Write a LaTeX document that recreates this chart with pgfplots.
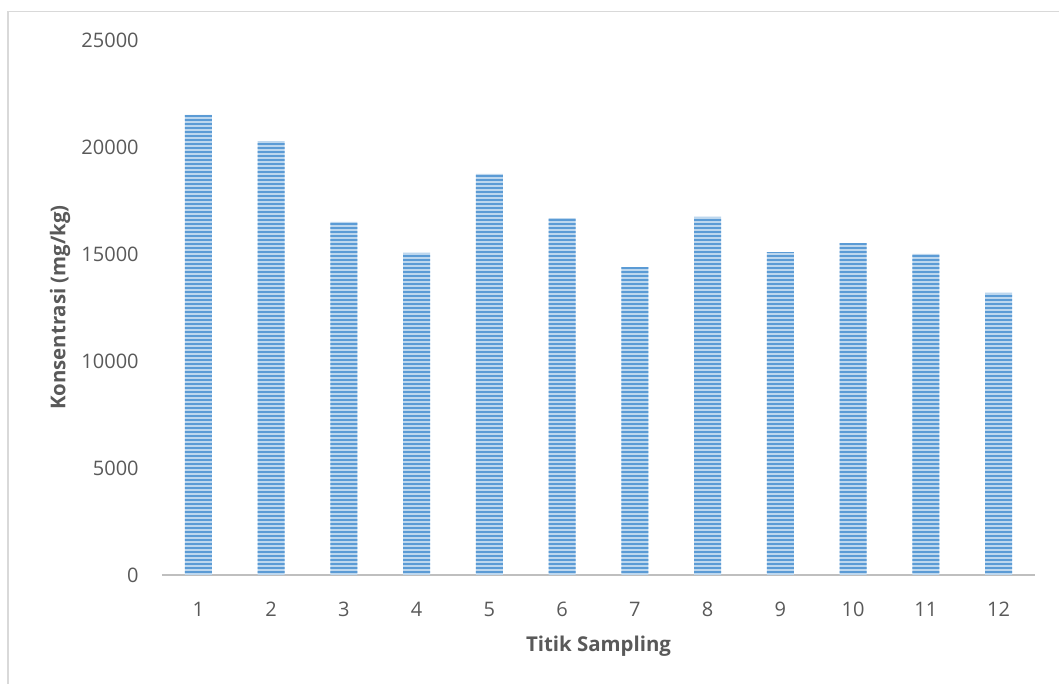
\documentclass[border=0pt]{standalone}
\usepackage{pgfplots}
\pgfplotsset{compat=1.18}
\usetikzlibrary{patterns.meta}
\usepackage{fontspec}
\setmainfont{Open Sans}

\definecolor{txtgray}{HTML}{595959}
\definecolor{axgray}{HTML}{BFBFBF}
\definecolor{framegray}{HTML}{D9D9D9}
\definecolor{barlight}{HTML}{BDD7EE}
\definecolor{bardark}{HTML}{5B9BD5}

\pgfplotstableread{
x y
1 21500
2 20280
3 16500
4 15050
5 18740
6 16680
7 14390
8 16730
9 15090
10 15510
11 15000
12 13180
}\konsentrasi

\begin{document}
\begin{tikzpicture}
\useasboundingbox (-81pt,-54.5pt) rectangle (448.5pt,287.5pt);
% outer chart frame
\draw[framegray, line width=0.8pt] (-77pt,-70pt) -- (-77pt,281.75pt) -- (470pt,281.75pt);
\begin{axis}[
  at={(0,0)}, anchor=south west,
  scale only axis,
  width=436.5pt, height=267.5pt,
  xmin=0.5, xmax=12.5,
  ymin=0, ymax=25000,
  xtick={1,...,12},
  ytick={0,5000,10000,15000,20000,25000},
  axis x line=bottom, axis y line=left,
  x axis line style={axgray, line width=1.3pt, -},
  y axis line style={draw=none},
  tick style={draw=none},
  /pgf/number format/assume math mode=true,
  /pgf/number format/set thousands separator={},
  scaled y ticks=false,
  ticklabel style={font=\fontsize{10}{12}\selectfont, text=txtgray},
  yticklabel style={xshift=-6pt},
  xticklabel style={yshift=-8pt},
  xlabel={Titik Sampling},
  ylabel={Konsentrasi (mg/kg)},
  label style={font=\fontsize{10.2}{12}\selectfont\bfseries, text=txtgray},
  xlabel style={at={([yshift=-35.5pt]axis description cs:0.5,0)}, anchor=center},
  ylabel style={at={([xshift=-51pt]axis description cs:0,0.5)}, anchor=center},
  clip=false,
]
\addplot[ybar, bar width=13.5pt, draw=none, fill=barlight,
  postaction={pattern={Lines[angle=0, distance=2pt, line width=1pt]}, pattern color=bardark}]
  table[x=x, y=y] {\konsentrasi};
\end{axis}
\end{tikzpicture}
\end{document}
